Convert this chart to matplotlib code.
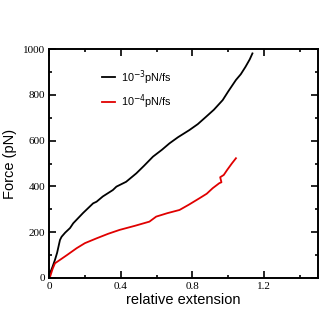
import numpy as np
import matplotlib.pyplot as plt
from matplotlib.ticker import MultipleLocator

# force-extension curves
ext_fast = [0.0, 0.006, 0.02, 0.033, 0.045, 0.061, 0.07, 0.09, 0.117, 0.135, 0.19, 0.246, 0.265,
            0.3, 0.356, 0.376, 0.43, 0.487, 0.53, 0.58, 0.63, 0.672, 0.72, 0.783, 0.83, 0.876,
            0.92, 0.969, 1.0, 1.043, 1.07, 1.096, 1.12, 1.135]
force_fast = [5, 22, 50, 79, 110, 166, 180, 198, 218, 239, 284, 326, 333, 356, 384, 399, 420,
              457, 490, 530, 560, 588, 615, 646, 672, 704, 735, 777, 815, 865, 890, 922, 955, 981]

ext_slow = [0.0, 0.006, 0.02, 0.033, 0.061, 0.1, 0.154, 0.2, 0.265, 0.33, 0.394, 0.48, 0.56,
            0.598, 0.66, 0.728, 0.78, 0.839, 0.88, 0.913, 0.95, 0.962, 0.955, 0.975, 0.994,
            1.02, 1.043]
force_slow = [2, 6, 40, 64, 79, 100, 130, 152, 173, 193, 210, 228, 246, 268, 283, 297, 320,
              348, 368, 392, 414, 418, 440, 450, 472, 500, 523]

plt.rcParams['font.family'] = ['Liberation Sans', 'DejaVu Sans']

fig = plt.figure(figsize=(3.27, 3.27), dpi=100)
ax = fig.add_axes([0.15, 0.15, 0.822, 0.70])

ax.plot(ext_fast, force_fast, color='black', lw=1.3, label='10$^{-3}$pN/fs')
ax.plot(ext_slow, force_slow, color='#e00000', lw=1.3, label='10$^{-4}$pN/fs')

ax.set_xlim(0, 1.5)
ax.set_ylim(0, 1000)
ax.xaxis.set_major_locator(MultipleLocator(0.4))
ax.xaxis.set_minor_locator(MultipleLocator(0.2))
ax.yaxis.set_major_locator(MultipleLocator(200))
ax.yaxis.set_minor_locator(MultipleLocator(100))
ax.set_xticks([0, 0.4, 0.8, 1.2])
ax.set_xticklabels(['0', '0.4', '0.8', '1.2'])
ax.tick_params(which='both', direction='in', top=True, right=True, width=1.2)
ax.tick_params(which='major', length=5, labelsize=8, pad=3)
ax.tick_params(which='minor', length=2.5)
for lab in ax.get_xticklabels() + ax.get_yticklabels():
    lab.set_family('Liberation Serif')
for s in ax.spines.values():
    s.set_linewidth(1.4)

ax.set_xlabel('relative extension', fontsize=10.5, labelpad=1)
ax.set_ylabel('Force (pN)', fontsize=10.5, labelpad=4)

ax.legend(loc='upper left', bbox_to_anchor=(0.16, 0.96), frameon=False, fontsize=7.8,
          handlelength=1.2, handletextpad=0.6, labelspacing=0.55)

plt.savefig('out.png', dpi=100)
